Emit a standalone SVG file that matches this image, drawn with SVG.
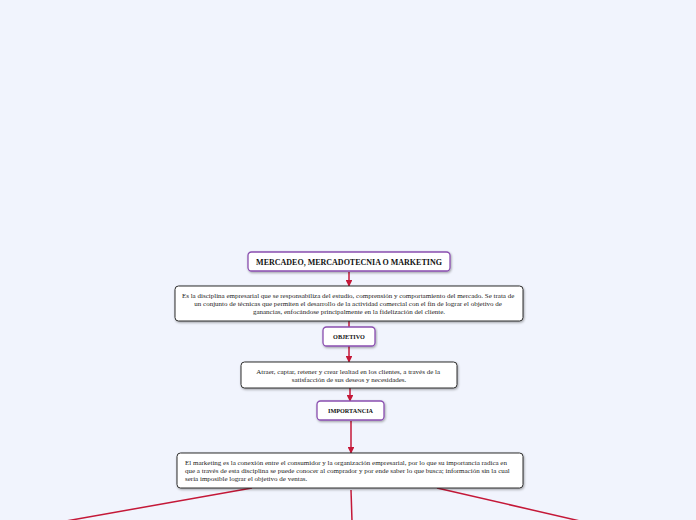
<svg xmlns="http://www.w3.org/2000/svg" width="696" height="520" viewBox="0 0 696 520">
<defs>
<style>
.bg{fill:#f1f4fd}
.tbox{fill:#fff;stroke:#8a4fb0;stroke-width:1.3}
.dbox{fill:#fff;stroke:#2e2e2e;stroke-width:1}
.t{font-family:"Liberation Serif","Times New Roman",serif;font-weight:bold;fill:#111}
.d{font-family:"Liberation Serif","Times New Roman",serif;font-size:7px;fill:#222}
.c{stroke:#c41838;stroke-width:1.5;fill:none}
</style>
<marker id="ah" viewBox="0 0 10 10" refX="9" refY="5" markerWidth="4.6" markerHeight="4.6" markerUnits="strokeWidth" orient="auto">
<path d="M0,0 L10,5 L0,10 z" fill="#c41838"/>
</marker>
<filter id="sh" x="-5%" y="-20%" width="110%" height="150%">
<feDropShadow dx="0.8" dy="1.2" stdDeviation="0.8" flood-color="#000" flood-opacity="0.35"/>
</filter>
</defs>
<rect class="bg" x="0" y="0" width="696" height="520"/>
<g id="connectors">
<line class="c" x1="349" y1="272" x2="349" y2="286" marker-end="url(#ah)"/>
<line class="c" x1="349" y1="321" x2="349" y2="327"/>
<line class="c" x1="349" y1="346" x2="349" y2="362" marker-end="url(#ah)"/>
<line class="c" x1="350" y1="388" x2="350" y2="401" marker-end="url(#ah)"/>
<line class="c" x1="351" y1="421" x2="351" y2="453" marker-end="url(#ah)"/>
<line class="c" x1="252" y1="488" x2="66" y2="521"/>
<line class="c" x1="351" y1="490" x2="352" y2="521"/>
<line class="c" x1="437" y1="488" x2="580" y2="521"/>
</g>
<g id="n-title">
<rect class="tbox" x="248" y="252" width="202" height="19" rx="3.5" filter="url(#sh)"/>
<text class="t" x="349" y="264.5" font-size="8" text-anchor="middle">MERCADEO, MERCADOTECNIA O MARKETING</text>
</g>
<g id="n-def">
<rect class="dbox" x="175" y="286" width="348" height="35" rx="3.5" filter="url(#sh)"/>
<text class="d" text-anchor="middle">
<tspan x="349" y="298">Es la disciplina empresarial que se responsabiliza del estudio, comprensión y comportamiento del mercado. Se trata de</tspan>
<tspan x="349" y="306">un conjunto de técnicas que permiten el desarrollo de la actividad comercial con el fin de lograr el objetivo de</tspan>
<tspan x="349" y="314">ganancias, enfocándose principalmente en la fidelización del cliente.</tspan>
</text>
</g>
<g id="n-objetivo">
<rect class="tbox" x="323" y="327" width="52" height="19" rx="3.5" filter="url(#sh)"/>
<text class="t" x="349" y="339" font-size="6.2" text-anchor="middle">OBJETIVO</text>
</g>
<g id="n-obj-text">
<rect class="dbox" x="241" y="362" width="216" height="26" rx="3.5" filter="url(#sh)"/>
<text class="d" text-anchor="middle" font-size="6.8">
<tspan x="349" y="374">Atraer, captar, retener y crear lealtad en los clientes, a través de la</tspan>
<tspan x="349" y="382">satisfacción de sus deseos y necesidades.</tspan>
</text>
</g>
<g id="n-importancia">
<rect class="tbox" x="317" y="401" width="67" height="19" rx="3.5" filter="url(#sh)"/>
<text class="t" x="350.5" y="413" font-size="6.2" text-anchor="middle">IMPORTANCIA</text>
</g>
<g id="n-imp-text">
<rect class="dbox" x="177" y="453" width="346" height="35" rx="3.5" filter="url(#sh)"/>
<text class="d">
<tspan x="185" y="465">El marketing es la conexión entre el consumidor y la organización empresarial, por lo que su importancia radica en</tspan>
<tspan x="185" y="473">que a través de esta disciplina se puede conocer al comprador  y por ende saber lo que busca; información sin la cual</tspan>
<tspan x="185" y="481">sería imposible lograr el objetivo de ventas.</tspan>
</text>
</g>
</svg>
